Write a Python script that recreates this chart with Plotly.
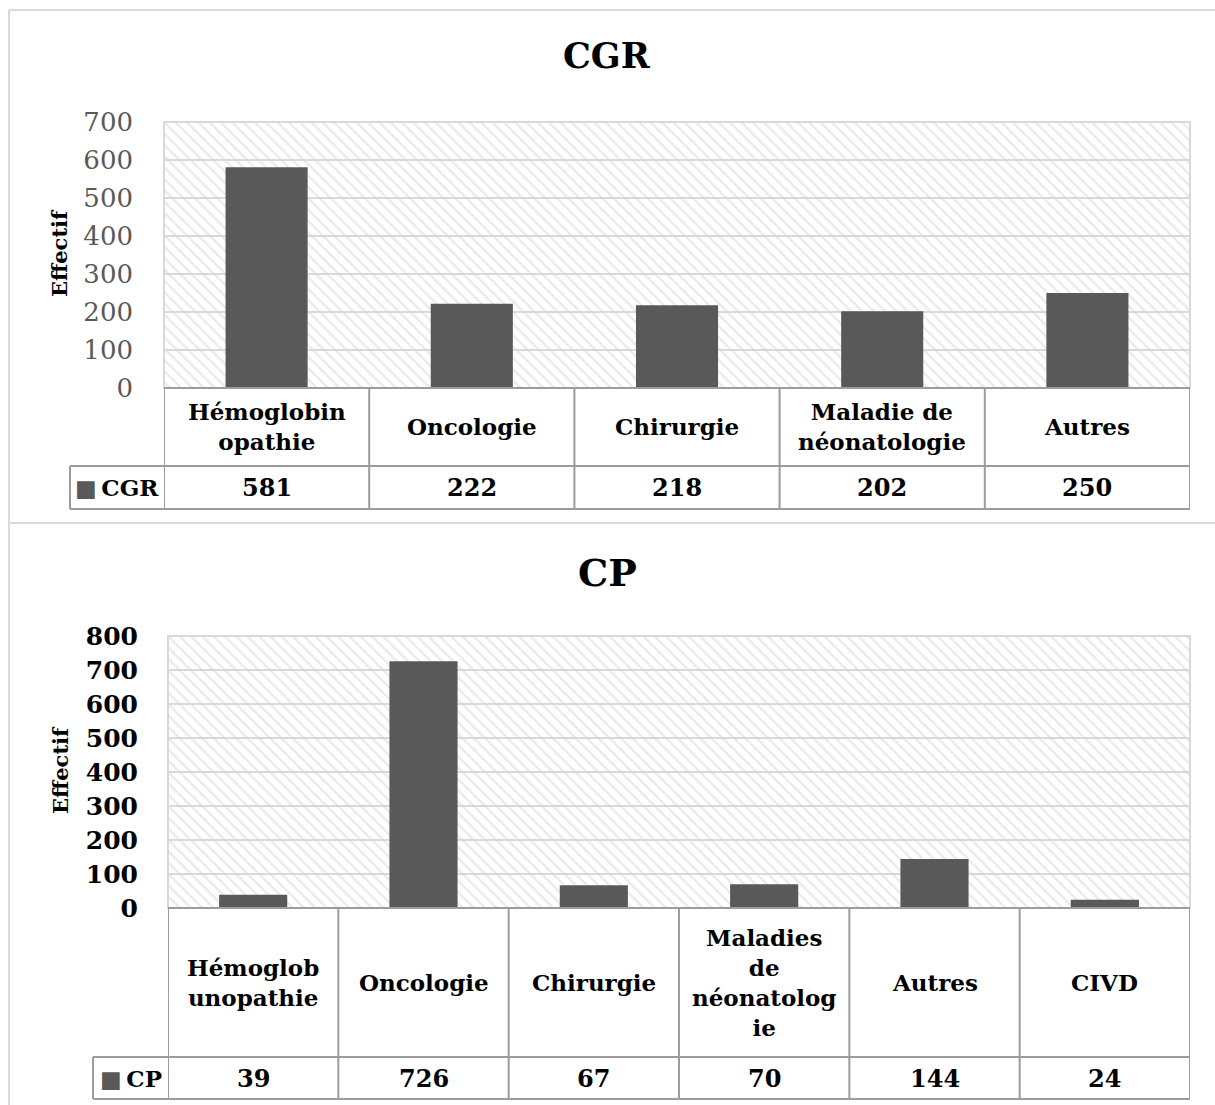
import plotly.graph_objects as go

W, H = 1215, 1105
FONT = "DejaVu Serif"
BAR_COLOR = "#595959"
GRID = "#d9d9d9"
TABLE_LINE = "#9c9c9c"

# ---------------- data ----------------
cgr_title = "CGR"
cgr_categories = ["Hémoglobin<br>opathie", "Oncologie", "Chirurgie", "Maladie de<br>néonatologie", "Autres"]
cgr_values = [581, 222, 218, 202, 250]
cgr_ymax = 700
cgr_dtick = 100

cp_title = "CP"
cp_categories = ["Hémoglob<br>unopathie", "Oncologie", "Chirurgie", "Maladies<br>de<br>néonatolog<br>ie", "Autres", "CIVD"]
cp_values = [39, 726, 67, 70, 144, 24]
cp_ymax = 800
cp_dtick = 100

y_title = "Effectif"


def px(x):
    return x / W


def py(y):
    return 1 - y / H


panels = [
    dict(title=cgr_title, cats=cgr_categories, vals=cgr_values, ymax=cgr_ymax, dtick=cgr_dtick,
         x0=164, x1=1190, ytop=122, ybot=388, split=466, tbot=509, lab_left=70,
         title_y=55, title_size=35, ytitle_y=253, ytitle_x=60, standoff=30,
         tickfont=dict(family=FONT, size=26, color="#595959"), cat_size=23, val_size=24),
    dict(title=cp_title, cats=cp_categories, vals=cp_values, ymax=cp_ymax, dtick=cp_dtick,
         x0=168, x1=1190, ytop=636, ybot=908, split=1057, tbot=1099, lab_left=93,
         title_y=572, title_size=38, ytitle_y=770, ytitle_x=60, standoff=29,
         tickfont=dict(family=FONT, size=25, color="black", weight="bold"), cat_size=23, val_size=24),
]

fig = go.Figure()
shapes = []
annotations = []
layout_axes = {}

for k, p in enumerate(panels, start=1):
    xa = "x" if k == 1 else f"x{k}"
    ya = "y" if k == 1 else f"y{k}"
    n = len(p["cats"])
    xs = list(range(n))

    # hatched plot background (one full-width bar spanning the axis range)
    fig.add_trace(go.Bar(
        x=[(n - 1) / 2], y=[p["ymax"]], width=[n], xaxis=xa, yaxis=ya,
        marker=dict(color="rgba(0,0,0,0)", line=dict(width=0),
                    pattern=dict(shape="\\", fgcolor="#d6d6d6", fillmode="overlay", size=8, solidity=0.3)),
        hoverinfo="skip", showlegend=False))

    fig.add_trace(go.Bar(
        x=xs, y=p["vals"], xaxis=xa, yaxis=ya, marker=dict(color=BAR_COLOR, line=dict(width=0)),
        width=0.4, name=p["title"], showlegend=False))

    layout_axes["xaxis" if k == 1 else f"xaxis{k}"] = dict(
        domain=[px(p["x0"]), px(p["x1"])], range=[-0.5, n - 0.5], showticklabels=False,
        showgrid=False, zeroline=False, showline=False, anchor=ya, fixedrange=True, automargin=False)
    layout_axes["yaxis" if k == 1 else f"yaxis{k}"] = dict(
        domain=[py(p["ybot"]), py(p["ytop"])], range=[0, p["ymax"]], dtick=p["dtick"],
        tick0=0, showgrid=True, gridcolor=GRID, gridwidth=2, zeroline=False, showline=False,
        tickfont=p["tickfont"], ticklabelstandoff=p["standoff"], anchor=xa, fixedrange=True, automargin=False)

    # plot frame
    shapes.append(dict(type="rect", xref=f"{xa} domain", yref=f"{ya} domain", x0=0, x1=1, y0=0, y1=1,
                       line=dict(color=GRID, width=2), layer="above"))

    # table lines
    ln = dict(color=TABLE_LINE, width=2)
    shapes.append(dict(type="line", xref="paper", yref="paper", x0=px(p["x0"]), x1=px(p["x1"]),
                       y0=py(p["ybot"]), y1=py(p["ybot"]), line=ln))
    for yy in (p["split"], p["tbot"]):
        shapes.append(dict(type="line", xref="paper", yref="paper", x0=px(p["lab_left"]), x1=px(p["x1"]),
                           y0=py(yy), y1=py(yy), line=ln))
    shapes.append(dict(type="line", xref="paper", yref="paper", x0=px(p["lab_left"]), x1=px(p["lab_left"]),
                       y0=py(p["split"]), y1=py(p["tbot"]), line=ln))
    for i in range(n + 1):
        shapes.append(dict(type="line", xref=xa, yref="paper", x0=i - 0.5, x1=i - 0.5,
                           y0=py(p["ybot"]), y1=py(p["tbot"]), line=ln))

    cat_y = py((p["ybot"] + p["split"]) / 2)
    val_y = py((p["split"] + p["tbot"]) / 2)
    for i, (c, v) in enumerate(zip(p["cats"], p["vals"])):
        annotations.append(dict(xref=xa, yref="paper", x=i, y=cat_y, text=c, showarrow=False,
                                font=dict(family=FONT, size=p["cat_size"], color="black", weight="bold"),
                                xanchor="center", yanchor="middle", align="center"))
        annotations.append(dict(xref=xa, yref="paper", x=i, y=val_y, text=str(v), showarrow=False,
                                font=dict(family=FONT, size=p["val_size"], color="black", weight="bold"),
                                xanchor="center", yanchor="middle"))
    # legend key cell
    annotations.append(dict(xref="paper", yref="paper", x=px((p["lab_left"] + p["x0"]) / 2), y=val_y,
                            text=f"<span style='color:{BAR_COLOR}'>■</span>\u2009{p['title']}", showarrow=False,
                            font=dict(family=FONT, size=p["val_size"] - 1, color="black", weight="bold"),
                            xanchor="center", yanchor="middle"))
    # title
    annotations.append(dict(xref="paper", yref="paper", x=px(607), y=py(p["title_y"]), text=p["title"],
                            showarrow=False, font=dict(family=FONT, size=p["title_size"], color="black", weight="bold"),
                            xanchor="center", yanchor="middle"))
    # y axis title
    annotations.append(dict(xref="paper", yref="paper", x=px(p["ytitle_x"]), y=py(p["ytitle_y"]), text=y_title,
                            textangle=-90, showarrow=False,
                            font=dict(family=FONT, size=21, color="black", weight="bold"),
                            xanchor="center", yanchor="middle"))

# outer chart frames
frame = dict(color=GRID, width=2)
shapes.append(dict(type="line", xref="paper", yref="paper", x0=px(9), x1=1, y0=py(10), y1=py(10), line=frame))
shapes.append(dict(type="line", xref="paper", yref="paper", x0=px(9), x1=px(9), y0=py(10), y1=0, line=frame))
shapes.append(dict(type="line", xref="paper", yref="paper", x0=px(9), x1=1, y0=py(523), y1=py(523), line=frame))

fig.update_layout(
    width=W, height=H, margin=dict(l=0, r=0, t=0, b=0, autoexpand=False),
    paper_bgcolor="white", plot_bgcolor="white",
    shapes=shapes, annotations=annotations, barmode="overlay",
    font=dict(family=FONT), **layout_axes)

fig.write_html("out.html", config={"displayModeBar": False},
               post_script="document.body.style.margin='0px';document.body.style.overflow='hidden';")
